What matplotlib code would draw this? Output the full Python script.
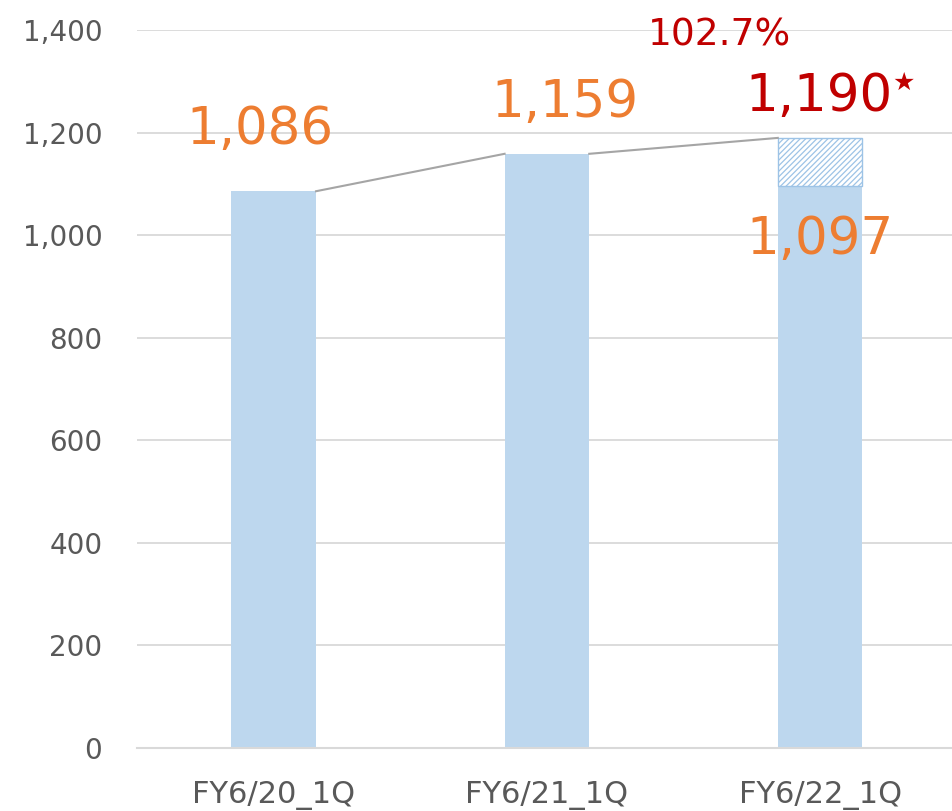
import matplotlib.pyplot as plt
import numpy as np

plt.rcParams['font.family'] = ['DejaVu Sans']
plt.rcParams['hatch.linewidth'] = 0.9

categories = ['FY6/20_1Q', 'FY6/21_1Q', 'FY6/22_1Q']
actual = [1086, 1159, 1097]
forecast_total = 1190
growth_label = '102.7%'

bar_color = '#BDD7EE'
orange = '#ED7D31'
red = '#C00000'
grid_color = '#D9D9D9'
text_gray = '#595959'
w = 0.31

fig = plt.figure(figsize=(9.52, 8.11), dpi=100)
ax = fig.add_axes([0.144, 0.0777, 0.861, 0.885])

x = np.arange(len(categories))
ax.bar(x, actual, width=w, color=bar_color, zorder=2)
# hatched forecast portion on top of the last bar
ax.bar(x[2], forecast_total - actual[2], bottom=actual[2], width=w,
       facecolor='white', edgecolor='#9DC3E6', hatch='//////', linewidth=1.0, zorder=2)

# series lines joining bar tops
tops = [actual[0], actual[1], forecast_total]
for i in range(len(tops) - 1):
    ax.plot([x[i] + w / 2, x[i + 1] - w / 2], [tops[i], tops[i + 1]],
            color='#A5A5A5', linewidth=1.5, zorder=3)

ax.set_xlim(-0.5, 2.5)
ax.set_ylim(0, 1400)
ax.set_yticks(range(0, 1401, 200))
ax.set_yticklabels([f'{v:,}' for v in range(0, 1401, 200)])
ax.set_xticks(x)
ax.set_xticklabels(categories)
ax.grid(axis='y', color=grid_color, linewidth=1.3, zorder=0)
ax.set_axisbelow(True)
for s in ['left', 'right', 'top']:
    ax.spines[s].set_visible(False)
ax.spines['bottom'].set_color(grid_color)
ax.spines['bottom'].set_linewidth(1.5)
ax.tick_params(axis='y', length=0, pad=25, labelsize=20, labelcolor=text_gray)
ax.tick_params(axis='x', length=0, pad=24, labelsize=22, labelcolor=text_gray)

# data labels
ax.text(-0.05, 1205, f'{actual[0]:,}', color=orange, fontsize=37, ha='center', va='center')
ax.text(1.066, 1259, f'{actual[1]:,}', color=orange, fontsize=37, ha='center', va='center')
ax.text(2.0, 990, f'{actual[2]:,}', color=orange, fontsize=37, ha='center', va='center')
ax.text(1.995, 1269, f'{forecast_total:,}', color=red, fontsize=37, ha='center', va='center')
ax.text(2.305, 1298, '★', color=red, fontsize=18, ha='center', va='center')
ax.text(1.633, 1390, growth_label, color=red, fontsize=27, ha='center', va='center')

fig.savefig('out.png', dpi=100)
